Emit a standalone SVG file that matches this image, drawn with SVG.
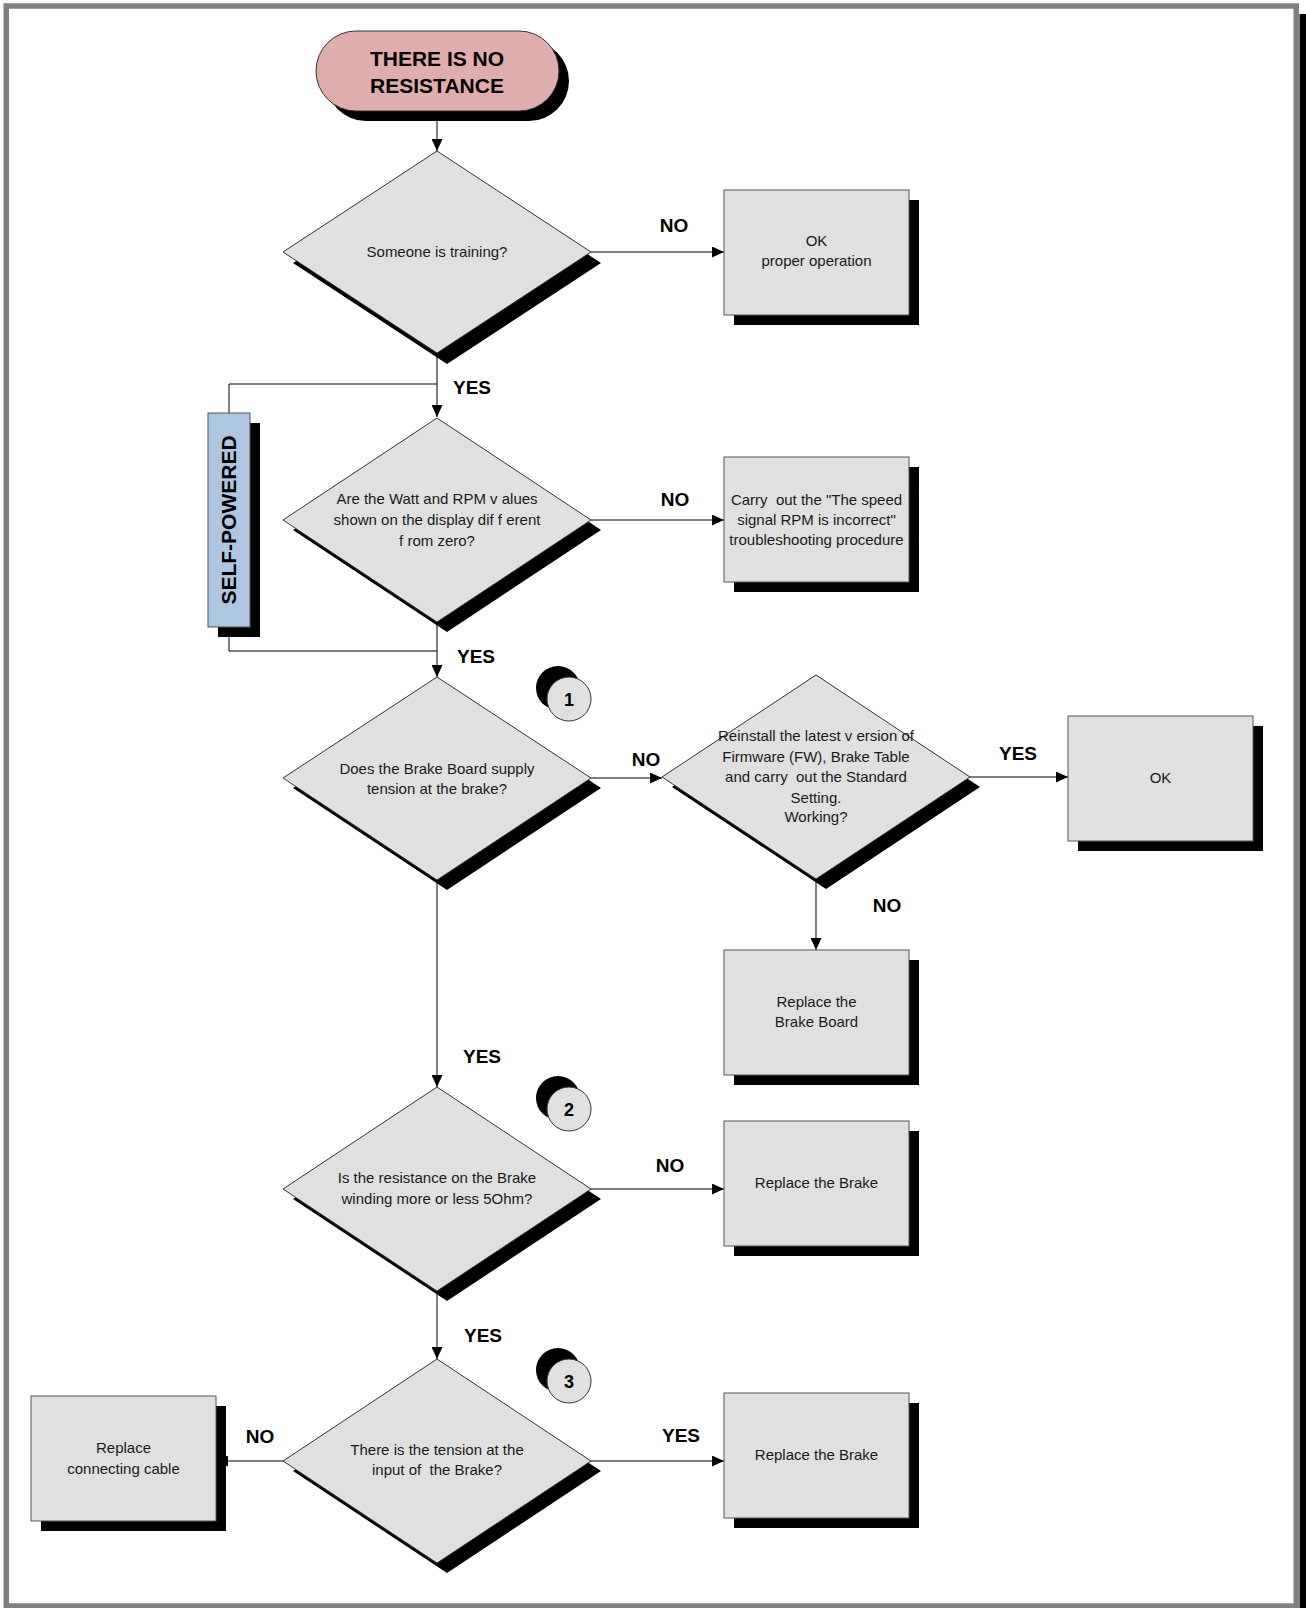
<svg xmlns="http://www.w3.org/2000/svg" width="1306" height="1608" viewBox="0 0 1306 1608">
<style>
.sh{fill:#000}
.dia{fill:#e0e0e0;stroke:#333;stroke-width:1}
.box{fill:#e0e0e0;stroke:#555;stroke-width:1}
.t{font-family:"Liberation Sans",Arial,sans-serif;font-size:15px;fill:#1a1a1a;text-anchor:middle}
.lb{font-family:"Liberation Sans",Arial,sans-serif;font-size:19px;font-weight:bold;fill:#000;text-anchor:middle}
.num{font-family:"Liberation Sans",Arial,sans-serif;font-size:18px;font-weight:bold;fill:#000;text-anchor:middle}
.ln{fill:none;stroke:#000;stroke-width:1}
</style>
<defs>
<marker id="ah" markerWidth="12" markerHeight="11" refX="12" refY="5.5" orient="auto" markerUnits="userSpaceOnUse">
<path d="M0,0 L12,5.5 L0,11 Z" fill="#000"/>
</marker>
</defs>
<rect width="1306" height="1608" fill="#fff"/>
<rect x="1299.5" y="14" width="6.5" height="1594" fill="#000"/>
<rect x="6.25" y="6" width="1290" height="1600" fill="none" stroke="#808080" stroke-width="5.5"/>

<g id="connectors">
<path class="ln" d="M437,111 V151" marker-end="url(#ah)"/>
<path class="ln" d="M591,252 H724" marker-end="url(#ah)"/>
<path class="ln" d="M437,354 V417" marker-end="url(#ah)"/>
<path class="ln" d="M437,384 H229 V413"/>
<path class="ln" d="M591,520 H724" marker-end="url(#ah)"/>
<path class="ln" d="M229,627 V651 H437"/>
<path class="ln" d="M437,622 V677" marker-end="url(#ah)"/>
<path class="ln" d="M591,778 H662" marker-end="url(#ah)"/>
<path class="ln" d="M970,777 H1068" marker-end="url(#ah)"/>
<path class="ln" d="M816,879 V950" marker-end="url(#ah)"/>
<path class="ln" d="M437,880 V1087" marker-end="url(#ah)"/>
<path class="ln" d="M591,1189 H724" marker-end="url(#ah)"/>
<path class="ln" d="M437,1291 V1359" marker-end="url(#ah)"/>
<path class="ln" d="M591,1461 H724" marker-end="url(#ah)"/>
<path class="ln" d="M283,1461 H216" marker-end="url(#ah)"/>
<text class="lb" x="674" y="232">NO</text>
<text class="lb" x="472" y="394">YES</text>
<text class="lb" x="675" y="506">NO</text>
<text class="lb" x="476" y="663">YES</text>
<text class="lb" x="646" y="766">NO</text>
<text class="lb" x="1018" y="760">YES</text>
<text class="lb" x="887" y="912">NO</text>
<text class="lb" x="482" y="1063">YES</text>
<text class="lb" x="670" y="1172">NO</text>
<text class="lb" x="483" y="1342">YES</text>
<text class="lb" x="681" y="1442">YES</text>
<text class="lb" x="260" y="1443">NO</text>
</g>

<g id="start">
<rect class="sh" x="326" y="41" width="243" height="80" rx="40"/>
<rect x="316" y="31" width="243" height="80" rx="40" fill="#e0adad" stroke="#333" stroke-width="1"/>
<text font-family="'Liberation Sans',Arial,sans-serif" font-size="21" font-weight="bold" text-anchor="middle" fill="#000"><tspan x="437" y="66">THERE IS NO</tspan><tspan x="437" y="93">RESISTANCE</tspan></text>
</g>

<g id="d1">
<path class="sh" d="M447,162 L601,263 L447,364 L293,263 Z"/>
<path class="dia" d="M437,151 L591,252 L437,353 L283,252 Z"/>
<text class="t" x="437" y="257">Someone is training?</text>
</g>

<g id="b1">
<rect class="sh" x="734" y="200" width="185" height="125"/>
<rect class="box" x="724" y="190" width="185" height="125"/>
<text class="t"><tspan x="816.5" y="246">OK</tspan><tspan x="816.5" y="266">proper operation</tspan></text>
</g>

<g id="selfpowered">
<rect class="sh" x="218" y="423" width="42" height="214"/>
<rect x="208" y="413" width="42" height="214" fill="#aec6e0" stroke="#555" stroke-width="1"/>
<text transform="translate(236,520) rotate(-90)" x="0" y="0" font-family="'Liberation Sans',Arial,sans-serif" font-size="21" font-weight="bold" text-anchor="middle" fill="#000">SELF-POWERED</text>
</g>

<g id="d2">
<path class="sh" d="M447,428 L601,530 L447,632 L293,530 Z"/>
<path class="dia" d="M437,418 L591,520 L437,622 L283,520 Z"/>
<text class="t"><tspan x="437" y="504">Are the Watt and RPM v alues</tspan><tspan x="437" y="525">shown on the display dif f erent</tspan><tspan x="437" y="546">f rom zero?</tspan></text>
</g>

<g id="b2">
<rect class="sh" x="734" y="467" width="185" height="125"/>
<rect class="box" x="724" y="457" width="185" height="125"/>
<text class="t" xml:space="preserve"><tspan x="816.5" y="505">Carry  out the "The speed</tspan><tspan x="816.5" y="525">signal RPM is incorrect"</tspan><tspan x="816.5" y="545">troubleshooting procedure</tspan></text>
</g>

<g id="c1">
<circle cx="558" cy="688" r="22" fill="#000"/>
<circle cx="569" cy="699" r="22" fill="#e0e0e0" stroke="#333" stroke-width="1"/>
<text class="num" x="569" y="705.5">1</text>
</g>

<g id="d3">
<path class="sh" d="M447,687 L601,788 L447,890 L293,788 Z"/>
<path class="dia" d="M437,677 L591,778 L437,880 L283,778 Z"/>
<text class="t"><tspan x="437" y="774">Does the Brake Board supply</tspan><tspan x="437" y="794">tension at the brake?</tspan></text>
</g>

<g id="d4">
<path class="sh" d="M826,685 L980,787 L826,889 L672,787 Z"/>
<path class="dia" d="M816,675 L970,777 L816,879 L662,777 Z"/>
<text class="t" xml:space="preserve"><tspan x="816" y="741">Reinstall the latest v ersion of</tspan><tspan x="816" y="761.5">Firmware (FW), Brake Table</tspan><tspan x="816" y="782">and carry  out the Standard</tspan><tspan x="816" y="802.5">Setting.</tspan><tspan x="816" y="822">Working?</tspan></text>
</g>

<g id="b_ok">
<rect class="sh" x="1078" y="726" width="185" height="125"/>
<rect class="box" x="1068" y="716" width="185" height="125"/>
<text class="t" x="1160.5" y="783">OK</text>
</g>

<g id="b_board">
<rect class="sh" x="734" y="960" width="185" height="125"/>
<rect class="box" x="724" y="950" width="185" height="125"/>
<text class="t"><tspan x="816.5" y="1006.5">Replace the</tspan><tspan x="816.5" y="1027">Brake Board</tspan></text>
</g>

<g id="c2">
<circle cx="558" cy="1098" r="22" fill="#000"/>
<circle cx="569" cy="1109" r="22" fill="#e0e0e0" stroke="#333" stroke-width="1"/>
<text class="num" x="569" y="1115.5">2</text>
</g>

<g id="d5">
<path class="sh" d="M447,1097 L601,1199 L447,1301 L293,1199 Z"/>
<path class="dia" d="M437,1087 L591,1189 L437,1291 L283,1189 Z"/>
<text class="t"><tspan x="437" y="1183">Is the resistance on the Brake</tspan><tspan x="437" y="1203.5">winding more or less 5Ohm?</tspan></text>
</g>

<g id="b_brake1">
<rect class="sh" x="734" y="1131" width="185" height="125"/>
<rect class="box" x="724" y="1121" width="185" height="125"/>
<text class="t" x="816.5" y="1188">Replace the Brake</text>
</g>

<g id="c3">
<circle cx="558" cy="1370" r="22" fill="#000"/>
<circle cx="569" cy="1381" r="22" fill="#e0e0e0" stroke="#333" stroke-width="1"/>
<text class="num" x="569" y="1387.5">3</text>
</g>

<g id="d6">
<path class="sh" d="M447,1369 L601,1471 L447,1573 L293,1471 Z"/>
<path class="dia" d="M437,1359 L591,1461 L437,1563 L283,1461 Z"/>
<text class="t" xml:space="preserve"><tspan x="437" y="1454.5">There is the tension at the</tspan><tspan x="437" y="1475">input of  the Brake?</tspan></text>
</g>

<g id="b_brake2">
<rect class="sh" x="734" y="1403" width="185" height="125"/>
<rect class="box" x="724" y="1393" width="185" height="125"/>
<text class="t" x="816.5" y="1460">Replace the Brake</text>
</g>

<g id="b_cable">
<rect class="sh" x="41" y="1406" width="185" height="125"/>
<rect class="box" x="31" y="1396" width="185" height="125"/>
<text class="t"><tspan x="123.5" y="1452.5">Replace</tspan><tspan x="123.5" y="1474">connecting cable</tspan></text>
</g>
</svg>
